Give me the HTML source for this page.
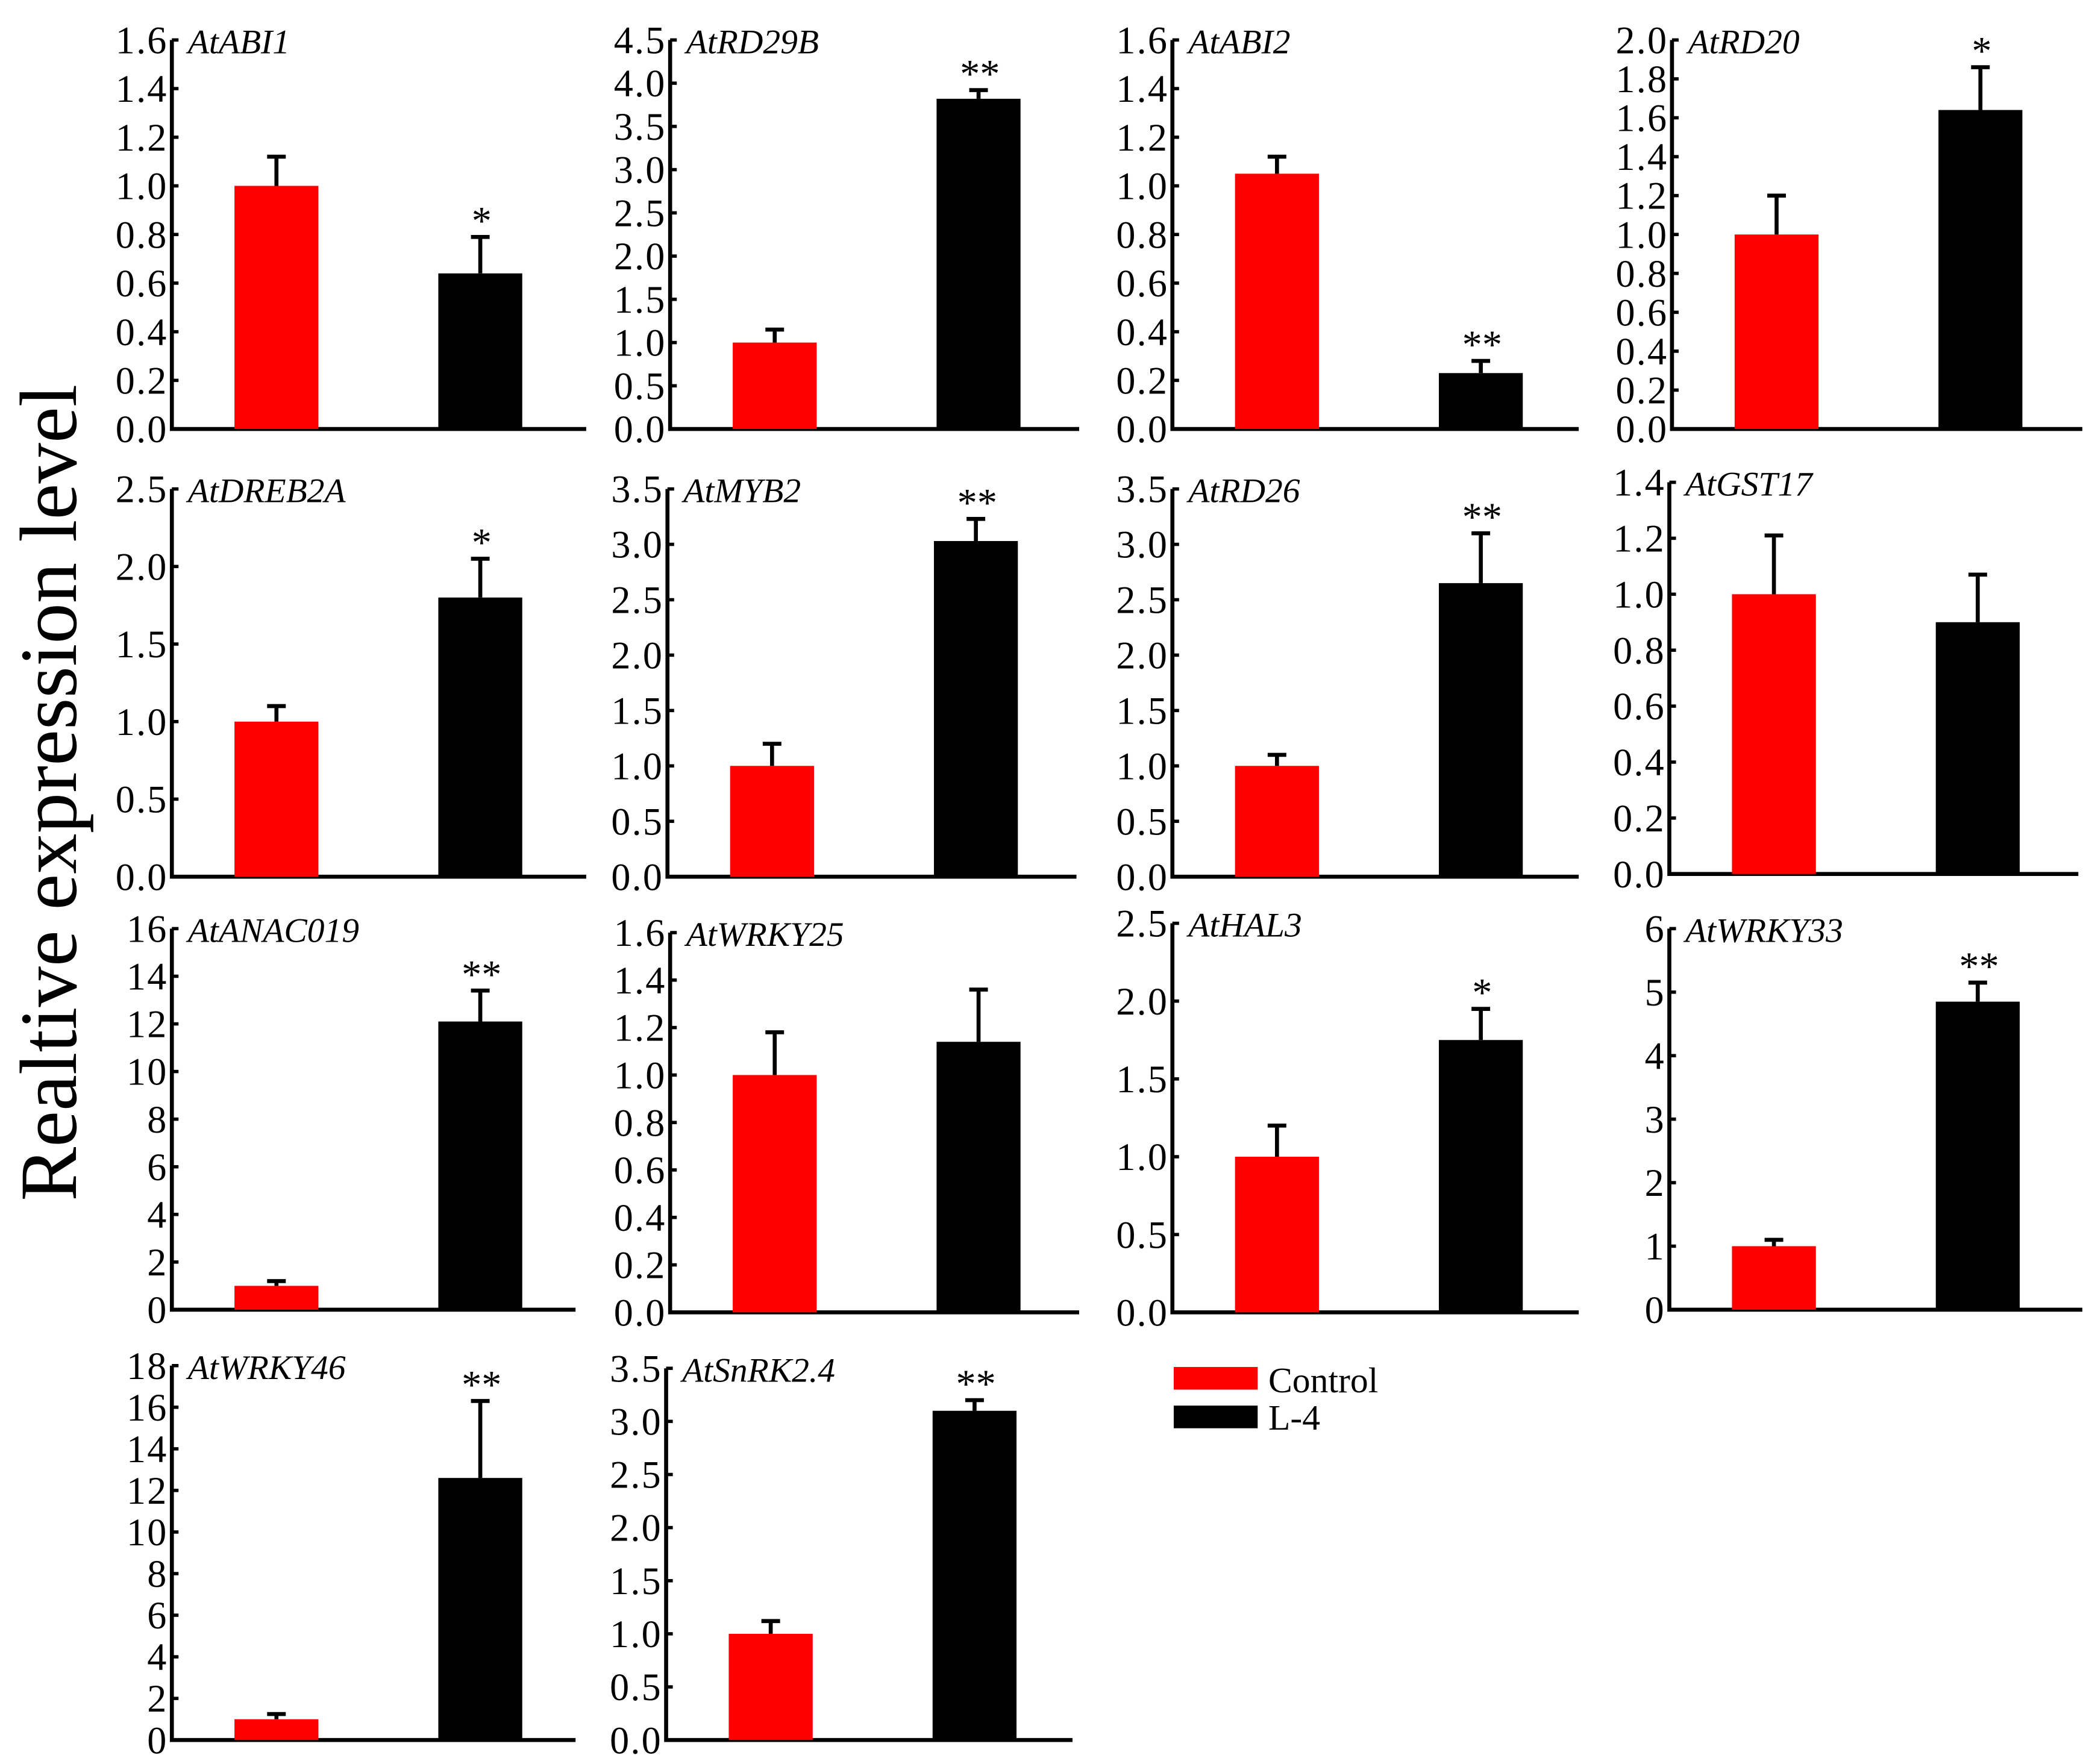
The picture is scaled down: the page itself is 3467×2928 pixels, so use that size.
<!DOCTYPE html>
<html><head><meta charset="utf-8"><style>
html,body{margin:0;padding:0;background:#fff;}
svg{display:block;}
text{font-family:"Liberation Serif",serif;}
</style></head><body>
<svg id="chart" width="3467" height="2928" viewBox="0 0 1568 1324" preserveAspectRatio="none" xmlns="http://www.w3.org/2000/svg">
<text x="0" y="0" transform="translate(57,595) rotate(-90)" text-anchor="middle" font-size="61">Realtive expression level</text>
<g>
<rect x="881" y="1026" width="63" height="17" fill="#ff0000"/>
<text x="952" y="1045" font-size="27">Control</text>
<rect x="881" y="1055" width="63" height="17" fill="#000"/>
<text x="952" y="1073" font-size="27">L-4</text>
</g>
</svg>
<script>
const genes = ["AtABI1","AtRD29B","AtABI2","AtRD20","AtDREB2A","AtMYB2","AtRD26","AtGST17","AtANAC019","AtWRKY25","AtHAL3","AtWRKY33","AtWRKY46","AtSnRK2.4"];
const controlValues = [1.0,1.0,1.05,1.0,1.0,1.0,1.0,1.0,1.0,1.0,1.0,1.0,1.0,1.0];
const controlErrors = [0.12,0.15,0.07,0.2,0.1,0.2,0.1,0.21,0.2,0.18,0.2,0.1,0.25,0.12];
const l4Values = [0.64,3.82,0.23,1.64,1.8,3.03,2.65,0.9,12.1,1.14,1.75,4.85,12.6,3.1];
const l4Errors = [0.15,0.1,0.05,0.22,0.25,0.2,0.45,0.17,1.3,0.22,0.2,0.3,3.7,0.1];
const significance = ["*","**","**","*","*","**","**","","**","","*","**","**","**"];
const yMax = [1.6,4.5,1.6,2.0,2.5,3.5,3.5,1.4,16,1.6,2.5,6,18,3.5];
const yStep = [0.2,0.5,0.2,0.2,0.5,0.5,0.5,0.2,2,0.2,0.5,1,2,0.5];
const yDecimals = [1,1,1,1,1,1,1,1,0,1,1,0,0,1];

const NS="http://www.w3.org/2000/svg";
const svg=document.getElementById('chart');
const layoutX=[[129,440],[503,810],[880,1185],[1255,1563],[129,440],[501,808],[880,1185],[1253,1560],[129,432],[503,810],[880,1185],[1253,1563],[129,432],[500,805]];
const layoutY=[[30,322],[30,322],[30,322],[30,322],[367,658],[367,658],[367,658],[362,656],[697,983],[700,985],[693,985],[697,983],[1025,1306],[1027,1306]];
function mk(tag,attrs,parent){const e=document.createElementNS(NS,tag);for(const k in attrs)e.setAttribute(k,attrs[k]);parent.appendChild(e);return e;}
genes.forEach((g,i)=>{
  const [x0,x1]=layoutX[i],[yT,yB]=layoutY[i];
  const y=v=>yB-(v/yMax[i])*(yB-yT);
  const grp=mk('g',{},svg);
  
  
  const ax=mk('path',{d:`M${x0},${yT} L${x0},${yB} L${x1},${yB}`,fill:'none',stroke:'#000','stroke-width':3},grp);
  
  
  const n=Math.round(yMax[i]/yStep[i]);
  for(let k=0;k<=n;k++){
    const v=k*yStep[i],yy=y(v);
    const t=mk('line',{x1:x0,x2:x0+5,y1:yy,y2:yy,stroke:'#000','stroke-width':2.5},grp);
    
    
    const lb=mk('text',{x:x0-3,y:yy+10,'text-anchor':'end','font-size':29,'letter-spacing':1},grp);
    
    
    lb.textContent=v.toFixed(yDecimals[i]);
  }
  const title=mk('text',{x:x0+12,y:yT+10,'font-size':26,'font-style':'italic'},grp);
  
  
  title.textContent=g;
  const bars=[[controlValues[i],controlErrors[i],'#ff0000',47,'control'],[l4Values[i],l4Errors[i],'#000',200,'l4']];
  bars.forEach(([v,e,c,off,nm])=>{
    const top=y(v),et=y(v+e),cx=x0+off+31.5;
    const b=mk('rect',{x:x0+off,y:top,width:63,height:yB-top,fill:c},grp);
    
    
    const el=mk('path',{d:`M${cx},${top} L${cx},${et} M${cx-7},${et} L${cx+7},${et}`,stroke:'#000','stroke-width':3,fill:'none'},grp);
    
    
  });
  if(significance[i]){
    const cx=x0+200+31.5;
    const s=mk('text',{x:cx+1,y:y(l4Values[i]+l4Errors[i])-2,'text-anchor':'middle','font-size':30},grp);
    
    
    s.textContent=significance[i];
  }
});
</script>
</body></html>
